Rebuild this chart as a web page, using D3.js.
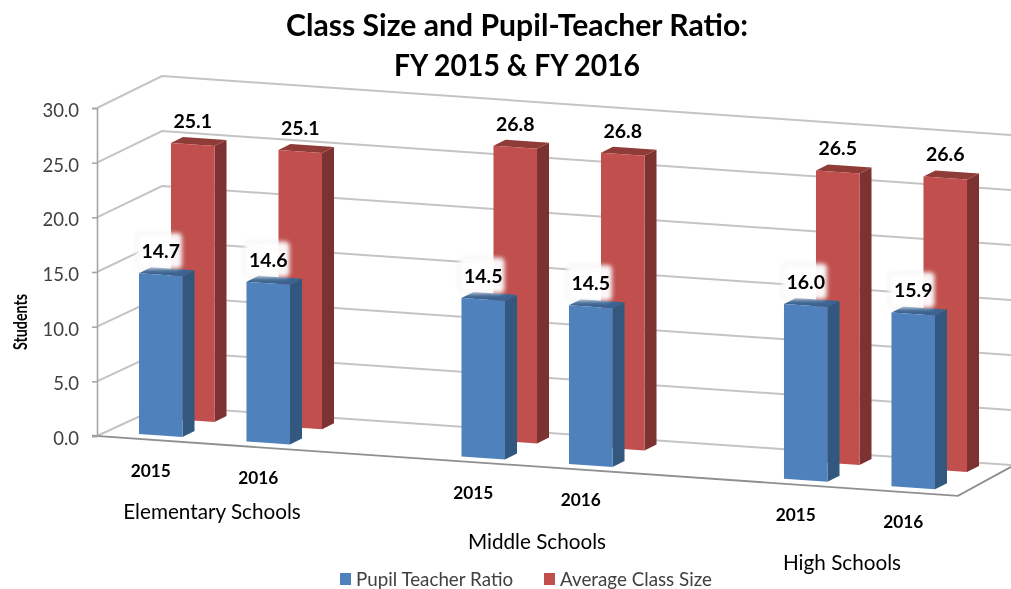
<!DOCTYPE html>
<html>
<head>
<meta charset="utf-8">
<script src="https://cdn.jsdelivr.net/npm/d3@7"></script>
<style>
  html, body { margin: 0; padding: 0; background: #fff; overflow: hidden; }
  text { font-family: Lato, "Open Sans", sans-serif; }
</style>
</head>
<body>
<svg class="chart" width="1011" height="589"></svg>
<script>
const groups = ['Elementary Schools', 'Middle Schools', 'High Schools']
const years = ['2015', '2016']
const pupilTeacherRatio = [14.7, 14.6, 14.5, 14.5, 16.0, 15.9]
const averageClassSize = [25.1, 25.1, 26.8, 26.8, 26.5, 26.6]
const yTicks = [0, 5, 10, 15, 20, 25, 30]
const titleLines = ['Class Size and Pupil-Teacher Ratio:', 'FY 2015 & FY 2016']

// 3 groups of 2 bars with an empty slot between them, same as the sheet
const slots = []
groups.forEach((g, i) => {
  years.forEach(y => slots.push({ group: i, year: y, key: g + y }))
  if (i < groups.length - 1) slots.push({ key: 'gap' + i })
})
const cats = slots.filter(s => s.year)

const svg = d3.select('.chart')
const slope = 0.0695
const corner = { x: 97, y: 436 }
const wall = { x: 162, right: 1011 }
const sideW = 12, sideH = 6, topDrop = 3

const x = d3.scaleBand().domain(slots.map(s => s.key)).range([107, 967]).paddingInner(0.595).paddingOuter(0.2975)
const y = d3.scaleLinear().domain([0, 30]).range([corner.y, 108])
const yBack = d3.scaleLinear().domain([0, 30]).range([406, 76])

const series = [
  { name: 'Average Class Size', values: averageClassSize, dx: 32, base: 419, slope: 0.0665, scale: yBack, front: '#c0504d', side: '#7d3230', top: '#8f3b39' },
  { name: 'Pupil Teacher Ratio', values: pupilTeacherRatio, dx: 0, base: 434, slope: 0.0695, scale: y, front: '#4f81bd', side: '#31587f', top: '#3a6491' }
]

const barBottom = (s, c) => s.base + s.slope * (x(c.key) - x(cats[0].key))
const barTop = (s, c, i) => barBottom(s, c) - (s.scale(0) - s.scale(s.values[i]))

const defs = svg.append('defs')
defs.append('filter').attr('id', 'soft').append('feGaussianBlur').attr('stdDeviation', 0.45)
defs.append('filter').attr('id', 'softText').append('feGaussianBlur').attr('stdDeviation', 0.3)
const glow = defs.append('filter').attr('id', 'glow').attr('x', '-30%').attr('y', '-30%').attr('width', '160%').attr('height', '160%')
glow.append('feGaussianBlur').attr('stdDeviation', 2)

// walls
const grid = svg.append('g').attr('filter', 'url(#soft)')
grid.selectAll('path').data(yTicks).join('path')
  .attr('fill', 'none')
  .attr('stroke', '#c4c4c4')
  .attr('stroke-width', 2)
  .attr('d', v => d3.line()([
    [corner.x, y(v)],
    [wall.x, yBack(v)],
    [wall.right, yBack(v) + slope * (wall.right - wall.x)]
  ]))

// floor
const floorX = 958
const floorY = corner.y + slope * (floorX - corner.x)
grid.append('path')
  .attr('fill', 'none')
  .attr('stroke', '#8f8f8f')
  .attr('stroke-width', 1.8)
  .attr('d', d3.line()([[corner.x - 5, corner.y - 0.3], [floorX, floorY], [wall.right, floorY - 29]]))

// axis
const yAxis = svg.append('g')
  .attr('transform', 'translate(' + corner.x + ',0)')
  .call(d3.axisLeft(y).tickValues(yTicks).tickFormat(d3.format('.1f')).tickSize(5).tickPadding(13))
yAxis.selectAll('.domain,line').attr('stroke', '#a6a6a6').attr('stroke-width', 1.6)
yAxis.selectAll('text')
  .attr('fill', '#404040').attr('dy', '0.46em').attr('filter', 'url(#softText)')
  .style('font-size', '18.5px').style('font-family', 'Lato')

// bars, back row first
const bars = svg.append('g').attr('filter', 'url(#soft)')
series.forEach(s => {
  const g = bars.append('g')
  cats.forEach((c, i) => {
    const xl = x(c.key) + s.dx
    const xr = xl + x.bandwidth()
    const yb = barBottom(s, c)
    const yt = barTop(s, c, i)
    const line = d3.line()
    g.append('path').attr('fill', s.side)
      .attr('d', line([[xr, yt + topDrop], [xr + sideW, yt + topDrop - sideH], [xr + sideW, yb + topDrop - sideH], [xr, yb + topDrop]]) + 'Z')
    g.append('path').attr('fill', s.top)
      .attr('d', line([[xl, yt], [xl + sideW, yt - sideH], [xr + sideW, yt + topDrop - sideH], [xr, yt + topDrop]]) + 'Z')
    g.append('path').attr('fill', s.front)
      .attr('d', line([[xl, yt], [xr, yt + topDrop], [xr, yb + topDrop], [xl, yb]]) + 'Z')
  })
})

// value labels
const labels = svg.append('g')
series.forEach(s => {
  cats.forEach((c, i) => {
    const cx = x(c.key) + s.dx + x.bandwidth() / 2
    const yt = barTop(s, c, i)
    if (s.dx === 0) {
      labels.append('rect')
        .attr('x', cx - 24).attr('y', yt - 40).attr('width', 45).attr('height', 35).attr('rx', 4)
        .attr('fill', '#fff').attr('fill-opacity', 0.95)
        .attr('stroke', '#d8d8d8').attr('stroke-width', 0.8)
        .attr('filter', 'url(#glow)')
    }
    labels.append('text')
      .attr('x', cx).attr('y', yt - 15)
      .attr('text-anchor', 'middle')
      .attr('fill', '#000')
      .attr('filter', 'url(#softText)')
      .style('font-size', '19.5px').style('font-weight', 700)
      .text(d3.format('.1f')(s.values[i]))
  })
})

// category labels
svg.append('g').attr('filter', 'url(#softText)').selectAll('text').data(cats).join('text')
  .attr('x', d => x(d.key) + x.bandwidth() / 2 - 10)
  .attr('y', d => 477 + 0.0675 * (x(d.key) + x.bandwidth() / 2 - 10 - 151))
  .attr('text-anchor', 'middle')
  .attr('fill', '#000')
  .style('font-size', '17.3px').style('font-weight', 700)
  .text(d => d.year)

// hand placed in the original, not evenly along the floor
const groupLabelX = [212, 537, 842]
const groupLabelY = [519, 549, 570]
svg.append('g').attr('filter', 'url(#softText)').selectAll('text').data(groups).join('text')
  .attr('x', (d, i) => groupLabelX[i])
  .attr('y', (d, i) => groupLabelY[i])
  .attr('text-anchor', 'middle')
  .attr('fill', '#000')
  .style('font-size', '20.7px')
  .text(d => d)

// title, the original font is narrower so fix the widths
const titleWidths = [462, 246]
svg.append('g').attr('filter', 'url(#softText)').selectAll('text').data(titleLines).join('text')
  .attr('x', 517)
  .attr('y', (d, i) => 36 + i * 40)
  .attr('text-anchor', 'middle')
  .attr('textLength', (d, i) => titleWidths[i])
  .attr('lengthAdjust', 'spacingAndGlyphs')
  .attr('fill', '#000')
  .style('font-size', '30px').style('font-weight', 700)
  .text(d => d)

// axis title
svg.append('text')
  .attr('transform', 'translate(27,322) rotate(-90)')
  .attr('text-anchor', 'middle')
  .attr('textLength', 56)
  .attr('lengthAdjust', 'spacingAndGlyphs')
  .attr('fill', '#000')
  .attr('filter', 'url(#softText)')
  .style('font-size', '18px').style('font-weight', 700)
  .text('Students')

// legend
const legendItems = [
  { name: series[1].name, color: series[1].front, x: 340 },
  { name: series[0].name, color: series[0].front, x: 544 }
]
const legend = svg.append('g').selectAll('g').data(legendItems).join('g')
  .attr('transform', d => 'translate(' + d.x + ',573)')
legend.append('rect').attr('width', 11).attr('height', 12).attr('fill', d => d.color)
legend.append('text').attr('x', 16).attr('y', 13)
  .attr('fill', '#404040')
  .attr('filter', 'url(#softText)')
  .style('font-size', '18.8px')
  .text(d => d.name)
</script>
</body>
</html>
